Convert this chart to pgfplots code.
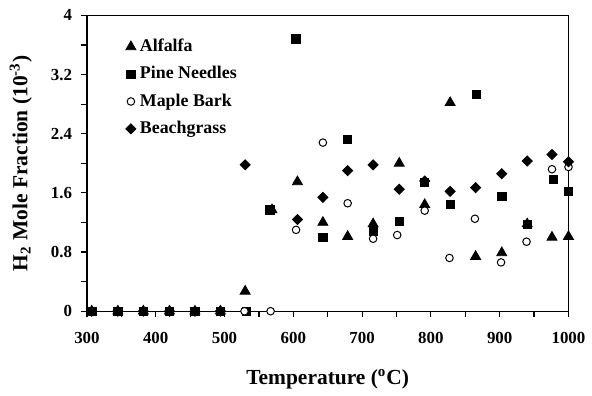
\documentclass[border=0pt]{standalone}
\usepackage{pgfplots}
\pgfplotsset{compat=1.18}
\usepackage{fontspec}
\setmainfont{Liberation Serif}

\pgfplotstableread{
T     v
307   0
345   0
382   0
420   0
457   0
494   0
530   0.27
569   1.37
606   1.75
643   1.20
679   1.01
716   1.18
754   2.00
791   1.44
828   2.82
865   0.74
903   0.79
940   1.18
976   1.00
1000  1.01
}\alfalfa

\pgfplotstableread{
T     v
307   0
345   0
382   0
420   0
457   0
494   0
532   0
566   1.37
604   3.68
643   1.00
679   2.32
716   1.08
754   1.21
791   1.74
828   1.44
866   2.93
903   1.55
940   1.17
978   1.78
1000  1.62
}\pine

\pgfplotstableread{
T     v
307   0
345   0
382   0
420   0
457   0
494   0
529   0
567   0
604   1.10
643   2.28
679   1.46
716   0.98
751   1.03
791   1.36
827   0.72
864   1.25
902   0.66
939   0.94
976   1.92
1000  1.95
}\maple

\pgfplotstableread{
T     v
307   0
345   0
382   0
420   0
457   0
494   0
530   1.98
606   1.24
643   1.54
679   1.90
716   1.98
754   1.65
791   1.76
828   1.62
865   1.67
903   1.86
940   2.03
976   2.12
1000  2.02
}\beach

\begin{document}
\begin{tikzpicture}
\begin{axis}[
  scale only axis,
  width=242.4pt, height=148.9pt,
  xmin=300, xmax=1000, ymin=0, ymax=4,
  xtick={300,400,...,1000},
  minor xtick={350,450,...,950},
  ytick={0,0.8,1.6,2.4,3.2,4},
  minor ytick={0.4,1.2,2.0,2.8,3.6},
  tick align=outside,
  tick pos=left,
  major tick length=3pt, minor tick length=3pt,
  axis line style={line width=0.6pt},
  tick style={black, line width=0.6pt},
  /pgf/number format/assume math mode=true,
  /pgf/number format/1000 sep={},
  tick label style={font=\bfseries\fontsize{8.5}{10}\selectfont},
  xticklabel style={yshift=-4pt},
  yticklabel style={xshift=-1pt},
  xlabel={Temperature (\textsuperscript{o}C)},
  ylabel={H\textsubscript{2} Mole Fraction (10\textsuperscript{-3})},
  every axis x label/.style={at={(axis description cs:0.5,-0.2307)}, anchor=center,
    font=\bfseries\fontsize{10.8}{13}\selectfont},
  every axis y label/.style={at={(axis description cs:-0.1372,0.5)}, anchor=center, rotate=90,
    font=\bfseries\fontsize{10.8}{13}\selectfont},
  legend style={draw=none, fill=none, at={(axis description cs:0.08,0.935)}, anchor=north west,
    font=\bfseries\fontsize{9}{11}\selectfont, row sep=2pt, inner sep=0pt},
  legend cell align=left,
]
\addplot[only marks, black, mark=triangle*, mark size=2.9pt] table[x=T,y=v] {\alfalfa};
\addlegendentry{Alfalfa}
\addplot[only marks, black, mark=square*, mark size=2.1pt] table[x=T,y=v] {\pine};
\addlegendentry{Pine Needles}
\addplot[only marks, black, mark=*, mark size=1.9pt, mark options={fill=white, line width=0.5pt}] table[x=T,y=v] {\maple};
\addlegendentry{Maple Bark}
\addplot[only marks, black, mark=square*, mark size=1.8pt, mark options={rotate=45}] table[x=T,y=v] {\beach};
\addlegendentry{Beachgrass}
\end{axis}
\path ([shift={(-43.75pt,-42.35pt)}]current axis.south west) rectangle ([shift={(9.85pt,7.75pt)}]current axis.north east);
\end{tikzpicture}
\end{document}
